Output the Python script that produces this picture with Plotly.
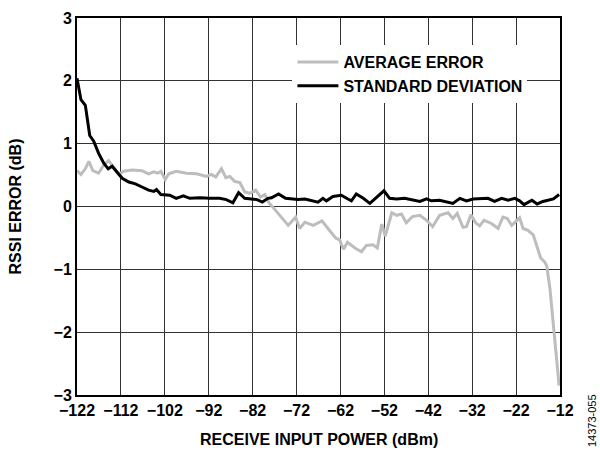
import plotly.graph_objects as go

# ---- data ----
power_avg = [-122, -121.1, -120.1, -119.3, -118.4, -117.1, -115.9, -114.8, -113.8, -112.5,
             -111.4, -109.5, -107.2, -105.7, -104.5, -103.6, -102.9, -101.9, -101.1, -99.4,
             -97.1, -94.8, -92.5, -91.4, -90.4, -89.1, -88.1, -87.2, -86.1, -84.9,
             -83.8, -82.7, -81.3, -80.2, -79.2, -78.3, -77.4, -75.6, -73.9, -72.2,
             -71.3, -70.1, -68.2, -66.2, -64.6, -63.1, -62.2, -61.3, -60.4, -58.7,
             -57.2, -56.1, -54.6, -53.6, -52.6, -51.8, -50.3, -49.2, -48.1, -47.0,
             -45.6, -43.9, -42.4, -41.0, -39.4, -37.5, -36.4, -35.4, -34.1, -33.3,
             -32.3, -31.2, -30.3, -29.3, -27.6, -26.1, -25.0, -24.0, -23.0, -21.9,
             -21.2, -20.4, -19.3, -18.1, -17.1, -16.4, -15.5, -15.0, -14.3, -13.6,
             -12.8, -12.2]
avg_error = [0.57, 0.51, 0.60, 0.72, 0.57, 0.53, 0.66, 0.73, 0.64, 0.51,
             0.56, 0.58, 0.57, 0.52, 0.55, 0.53, 0.56, 0.43, 0.52, 0.56,
             0.53, 0.52, 0.48, 0.51, 0.47, 0.60, 0.46, 0.48, 0.40, 0.38,
             0.23, 0.21, 0.26, 0.15, 0.19, 0.06, -0.01, -0.15, -0.30, -0.17,
             -0.35, -0.25, -0.30, -0.23, -0.37, -0.50, -0.53, -0.68, -0.57, -0.66,
             -0.72, -0.62, -0.61, -0.66, -0.28, -0.47, -0.10, -0.14, -0.12, -0.26,
             -0.16, -0.14, -0.22, -0.32, -0.14, -0.10, -0.19, -0.11, -0.33, -0.32,
             -0.13, -0.26, -0.31, -0.22, -0.27, -0.35, -0.17, -0.19, -0.30, -0.22,
             -0.18, -0.35, -0.38, -0.45, -0.66, -0.82, -0.88, -0.95, -1.30, -1.78,
             -2.40, -2.85]

power_std = [-122, -121.1, -120.1, -119.1, -118.2, -117.1, -115.9, -114.9, -114.0, -112.9,
             -111.7, -110.2, -108.7, -107.2, -105.7, -104.5, -103.9, -102.9, -100.9, -99.4,
             -97.8, -96.3, -94.0, -91.8, -89.5, -88.0, -86.5, -85.2, -83.8, -82.3,
             -81.0, -79.8, -78.5, -77.7, -76.1, -74.5, -73.2, -71.7, -70.1, -68.6,
             -67.1, -66.0, -65.2, -63.7, -61.8, -60.3, -59.5, -58.4, -56.8, -55.3,
             -53.8, -52.1, -50.8, -49.2, -47.4, -45.4, -43.9, -42.4, -41.3, -39.4,
             -37.9, -36.4, -34.8, -33.3, -31.8, -29.9, -28.4, -26.9, -25.3, -23.8,
             -22.3, -21.2, -20.2, -18.4, -17.2, -15.9, -14.3, -13.5, -12.2]
std_dev = [2.04, 1.70, 1.61, 1.13, 1.04, 0.85, 0.69, 0.60, 0.64, 0.55,
           0.45, 0.39, 0.36, 0.31, 0.26, 0.24, 0.27, 0.19, 0.18, 0.13,
           0.17, 0.13, 0.14, 0.13, 0.13, 0.11, 0.06, 0.22, 0.13, 0.12,
           0.11, 0.07, 0.13, 0.14, 0.20, 0.13, 0.12, 0.11, 0.12, 0.09,
           0.07, 0.13, 0.09, 0.16, 0.18, 0.12, 0.09, 0.20, 0.13, 0.05,
           0.15, 0.25, 0.13, 0.12, 0.13, 0.10, 0.08, 0.12, 0.09, 0.10,
           0.08, 0.05, 0.13, 0.09, 0.12, 0.13, 0.13, 0.08, 0.13, 0.10,
           0.13, 0.09, 0.03, 0.10, 0.04, 0.08, 0.10, 0.12, 0.19]

x_tick_vals = [-122, -112, -102, -92, -82, -72, -62, -52, -42, -32, -22, -12]
x_tick_labels = ["−122", "−112", "−102", "−92", "−82", "−72", "−62", "−52", "−42", "−32", "−22", "−12"]
y_tick_vals = [-3, -2, -1, 0, 1, 2, 3]
y_tick_labels = ["−3", "−2", "−1", "0", "1", "2", "3"]

FONT = "Arial, Liberation Sans, Helvetica, sans-serif"

fig = go.Figure()
fig.add_trace(go.Scatter(x=power_avg, y=avg_error, mode="lines",
                         name="<b>AVERAGE ERROR</b>",
                         line=dict(color="#bdbdbd", width=3)))
fig.add_trace(go.Scatter(x=power_std, y=std_dev, mode="lines",
                         name="<b>STANDARD DEVIATION</b>",
                         line=dict(color="#000000", width=3)))

axis_common = dict(showgrid=True, gridcolor="#333333", gridwidth=1,
                   showline=True, linecolor="#000000", linewidth=2, mirror=True,
                   zeroline=False, ticks="",
                   tickfont=dict(family=FONT, size=16, color="#000000", weight="bold"))

fig.update_xaxes(range=[-122, -12], tickmode="array", tickvals=x_tick_vals,
                 ticktext=x_tick_labels, **axis_common)
fig.update_yaxes(range=[-3, 3], tickmode="array", tickvals=y_tick_vals,
                 ticktext=y_tick_labels, **axis_common)

fig.update_layout(
    width=600, height=450,
    margin=dict(l=77, r=40, t=10, b=55),
    paper_bgcolor="white", plot_bgcolor="white",
    font=dict(family=FONT, color="#000000"),
    showlegend=True,
    legend=dict(x=0.446, y=0.928, xanchor="left", yanchor="top",
                bgcolor="white", borderwidth=0, itemwidth=41,
                font=dict(family=FONT, size=16, color="#000000"),
                tracegroupgap=0),
    annotations=[
        dict(text="<b>RECEIVE INPUT POWER (dBm)</b>", xref="paper", yref="paper",
             x=0.5, y=0, xanchor="center", yanchor="middle", yshift=-44,
             showarrow=False, font=dict(family=FONT, size=16, color="#000000")),
        dict(text="<b>RSSI ERROR (dB)</b>", xref="paper", yref="paper",
             x=0, y=0.5, xanchor="center", yanchor="middle", xshift=-62,
             textangle=-90, showarrow=False,
             font=dict(family=FONT, size=16, color="#000000")),
        dict(text="14373-055", xref="paper", yref="paper",
             x=1, y=0, xanchor="center", yanchor="middle", xshift=32, yshift=-26,
             textangle=-90, showarrow=False,
             font=dict(family=FONT, size=11, color="#000000")),
    ],
)

fig.write_html("out.html", config={"displayModeBar": False},
               post_script="document.body.style.margin='0px';")
